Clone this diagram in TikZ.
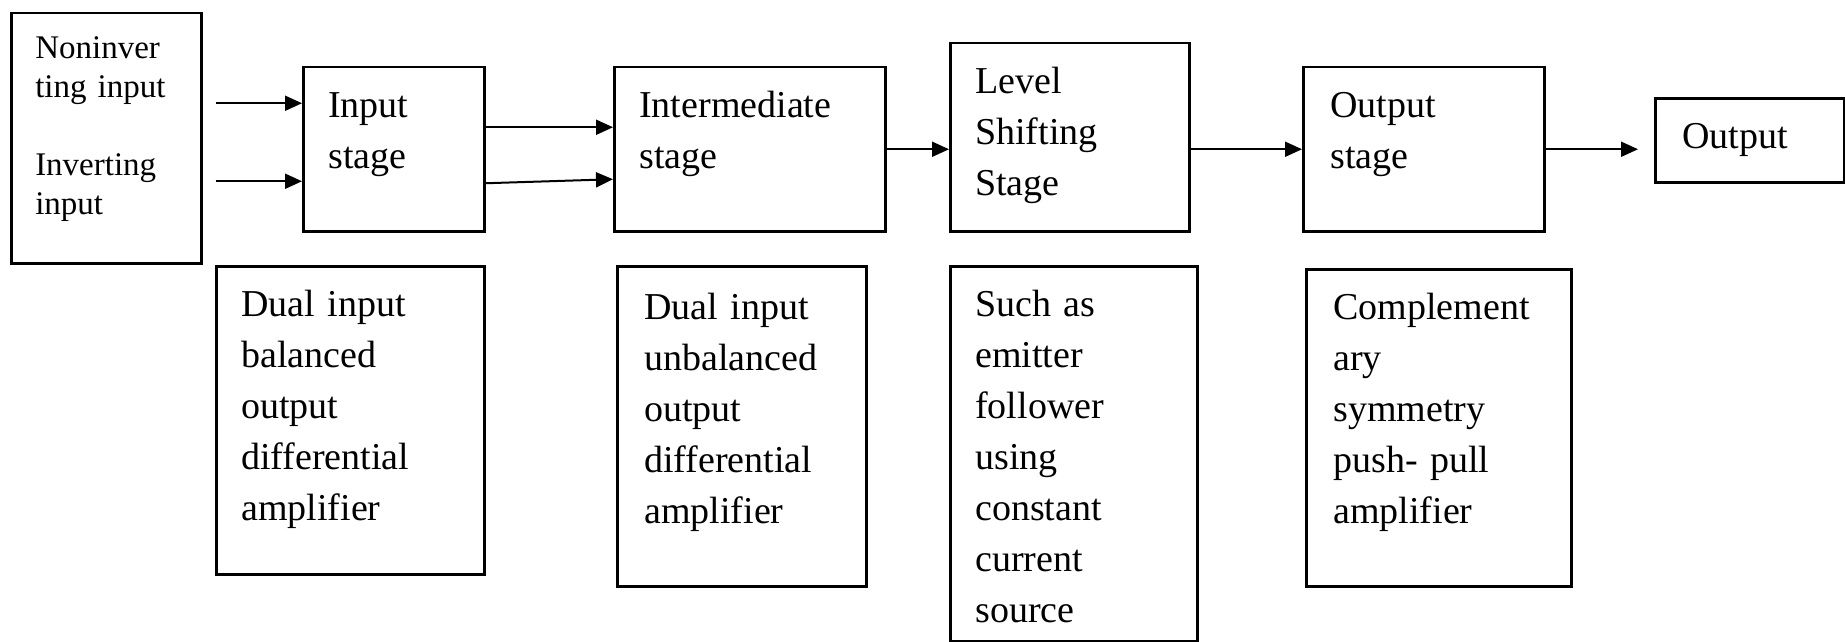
\documentclass[tikz,border=0pt]{standalone}
\usepackage{fontspec}
\setmainfont{Liberation Serif}
\usetikzlibrary{arrows.meta}
\usetikzlibrary{calc}

\tikzset{
    blk/.style={draw, line width=2.5pt, anchor=north west, align=left,
        inner xsep=25pt, inner ysep=0pt, text height=50pt,
        font=\fontsize{38}{51}\selectfont},
    arr/.style={line width=2pt, -{Triangle[length=17pt,width=15pt]}}
}

\begin{document}
\begin{tikzpicture}[x=1pt,y=-1pt]
    \useasboundingbox (0,0) rectangle (1845,642);

    \node[blk, text width=142pt, inner xsep=24pt, text height=45pt, text depth=205pt,
        font=\fontsize{33}{39}\selectfont] (src) at (10,12)
        {Noninver\\ting input\\[39pt]Inverting\\input};
    \node[blk, text width=131pt, text depth=114pt] (instage) at (302,66) {Input\\stage};
    \node[blk, text width=221pt, text depth=114pt] (inter) at (613,66) {Intermediate\\stage};
    \node[blk, text width=189pt, text depth=138pt] (level) at (949,42) {Level\\Shifting\\Stage};
    \node[blk, text width=187pt, inner xsep=27pt, text depth=114pt] (outstage) at (1302,66) {Output\\stage};
    \node[blk, text width=135pt, inner xsep=27pt, text depth=34pt] (out) at (1654,97) {Output};

    \node[blk, text width=218pt, text depth=258pt] (bal) at (215,265)
        {Dual input\\balanced\\output\\differential\\amplifier};
    \node[blk, text width=195pt, inner xsep=27pt, text height=53pt, text depth=267pt] (unbal) at (616,265)
        {Dual input\\unbalanced\\output\\differential\\amplifier};
    \node[blk, text width=197pt, text depth=325pt] (emit) at (949,265)
        {Such as\\emitter\\follower\\using\\constant\\current\\source};
    \node[blk, text width=211pt, inner xsep=27pt, text depth=267pt] (comp) at (1305,268)
        {Complement\\ary\\symmetry\\push- pull\\amplifier};

    \coordinate (nin) at ([yshift=46pt]instage.west);
    \coordinate (inv) at ([yshift=-32pt]instage.west);
    \draw[arr, shorten <=13pt] (src.east |- nin) -- (nin);
    \draw[arr, shorten <=13pt] (src.east |- inv) -- (inv);

    \draw[arr] ([yshift=22pt]instage.east) -- ([yshift=22pt]inter.west);
    \draw[arr] ([yshift=-34pt]instage.east) -- ([yshift=-30pt]inter.west);
    \draw[arr] (inter.east) -- (inter.east -| level.west);
    \draw[arr] (level.east |- outstage.west) -- (outstage.west);
    \draw[arr, shorten >=16pt] (outstage.east) -- (outstage.east -| out.west);
\end{tikzpicture}
\end{document}
